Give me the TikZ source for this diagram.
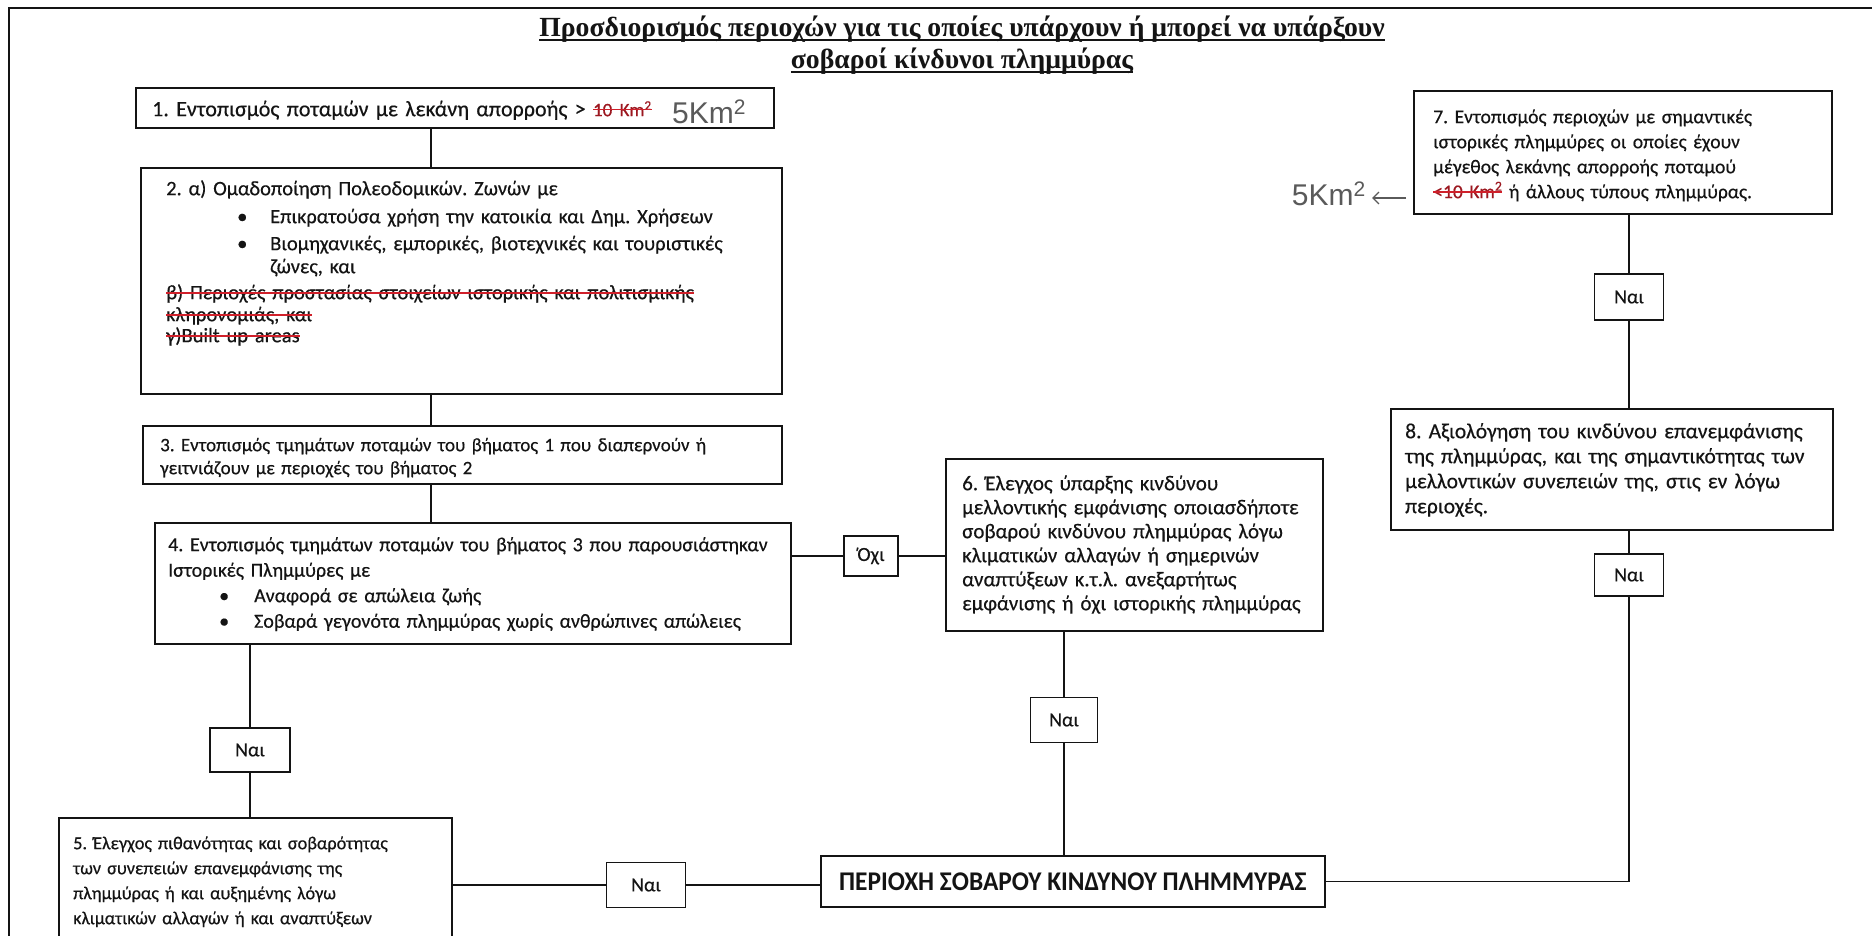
\documentclass[tikz,border=0pt]{standalone}
\usepackage{fontspec}
\usetikzlibrary{arrows.meta}
\setmainfont{Carlito}[FakeBold=0.4]
\newfontfamily\titlefont{Liberation Serif}
\newfontfamily\condfont[FakeStretch=0.94]{Carlito}
\newfontfamily\handfont{Liberation Sans}
\definecolor{ink}{HTML}{141414}
\definecolor{strk}{HTML}{D0202A}
\definecolor{hand}{HTML}{5A5A5A}
\frenchspacing
\newsavebox\sbx
\newcommand\rsout[1]{\sbox\sbx{#1}\usebox\sbx\llap{\textcolor{strk}{\rule[0.55ex]{\wd\sbx}{1.6pt}}}}
\newcommand\uln[1]{\sbox\sbx{#1}\usebox\sbx\llap{\rule[-5pt]{\wd\sbx}{1.6pt}}}
\newcommand\bulat[2]{\hspace*{#1}\makebox[#2][l]{\textbullet}}
\begin{document}
\begin{tikzpicture}[x=1pt,y=-1pt,
  box/.style={draw=ink, line width=1.6pt, anchor=north west, inner sep=0pt},
  lbl/.style={anchor=north west, inner sep=0pt, align=left, text width=#1, text=ink},
  yes/.style={draw=ink, line width=1.6pt, inner sep=0pt, minimum width=68pt, minimum height=44pt, font=\fontsize{20}{24}\selectfont, text=ink},
  link/.style={draw=ink, line width=1.6pt},
  hand/.style={inner sep=0pt, text=hand, font=\handfont\fontsize{30}{30}\selectfont}]
\useasboundingbox (0,0) rectangle (1872,935);
\fill[white] (0,0) rectangle (1872,935);
\clip (0,0) rectangle (1872,935);
% outer frame
\draw[ink, line width=1.4pt] (9,940) -- (9,8) -- (1880,8);
% title
\node[inner sep=0pt, anchor=base, text=ink, font=\titlefont\bfseries\fontsize{27.7}{32}\selectfont] (title1) at (962,36) {\uln{Προσδιορισμός περιοχών για τις οποίες υπάρχουν ή μπορεί να υπάρξουν}};
\node[inner sep=0pt, anchor=base, text=ink, font=\titlefont\bfseries\fontsize{27.7}{32}\selectfont] (title2) at (962,68) {\uln{σοβαροί κίνδυνοι πλημμύρας}};
% boxes
\node[box, minimum width=638pt, minimum height=40pt] (b1) at (135,87) {};
\node[box, minimum width=641pt, minimum height=226pt] (b2) at (140,167) {};
\node[box, minimum width=639pt, minimum height=58pt] (b3) at (142,425) {};
\node[box, minimum width=636pt, minimum height=121pt] (b4) at (154,522) {};
\node[box, minimum width=377pt, minimum height=172pt] (b6) at (945,458) {};
\node[box, minimum width=393pt, minimum height=125pt] (b5) at (58,817) {};
\node[box, minimum width=418pt, minimum height=123pt] (b7) at (1413,90) {};
\node[box, minimum width=442pt, minimum height=121pt] (b8) at (1390,408) {};
\node[box, minimum width=504pt, minimum height=51pt, text=ink, font=\condfont\bfseries\fontsize{27}{30}\selectfont] (bot) at (820,855) {ΠΕΡΙΟΧΗ ΣΟΒΑΡΟΥ ΚΙΝΔΥΝΟΥ ΠΛΗΜΜΥΡΑΣ};
% decision labels
\node[yes, minimum width=54pt, minimum height=40pt] (oxi) at (871,556) {Όχι};
\node[yes, minimum width=67pt, minimum height=45pt] (naiM) at (1064,720) {Ναι};
\node[yes, minimum width=80pt, minimum height=44pt] (naiL) at (250,750) {Ναι};
\node[yes, minimum width=79pt, minimum height=45pt] (naiB) at (646,885) {Ναι};
\node[yes, minimum width=69pt, minimum height=42pt] (nai8) at (1629,575) {Ναι};
\node[yes, minimum width=69pt, minimum height=46pt] (nai7) at (1629,297) {Ναι};
% texts
\node[lbl=620pt, font=\fontsize{22}{26}\selectfont] (t1) at (152,97.8) {\strut 1. Εντοπισμός ποταμών με λεκάνη απορροής > \rsout{\textcolor{strk!75!black}{\fontsize{19}{22}\selectfont 10 Km\textsuperscript{2}}}};
\node[hand] (h1) at (709,112) {5Km\textsuperscript{2}};
\node[lbl=620pt, font=\fontsize{20.5}{25}\selectfont] (t2) at (166,177.5) {\strut 2. α) Ομαδοποίηση Πολεοδομικών. Ζωνών με\\[3pt]
\bulat{71pt}{33pt}Επικρατούσα χρήση την κατοικία και Δημ. Χρήσεων\\[2pt]
\bulat{71pt}{33pt}Βιομηχανικές, εμπορικές, βιοτεχνικές και τουριστικές\\[-2pt]
\hspace*{104pt}ζώνες, και\\[1pt]
\rsout{β) Περιοχές προστασίας στοιχείων ιστορικής και πολιτισμικής}\\[-3pt]
\rsout{κληρονομιάς, και}\\[-4pt]
\rsout{γ)Built up areas}};
\node[lbl=620pt, font=\fontsize{19}{23}\selectfont] (t3) at (160,434.9) {\strut 3. Εντοπισμός τμημάτων ποταμών του βήματος 1 που διαπερνούν ή\\
γειτνιάζουν με περιοχές του βήματος 2};
\node[lbl=620pt, font=\fontsize{20}{25.5}\selectfont] (t4) at (168,533.15) {\strut 4. Εντοπισμός τμημάτων ποταμών του βήματος 3 που παρουσιάστηκαν\\
Ιστορικές Πλημμύρες με\\
\bulat{51pt}{35pt}Αναφορά σε απώλεια ζωής\\
\bulat{51pt}{35pt}Σοβαρά γεγονότα πλημμύρας χωρίς ανθρώπινες απώλειες};
\node[lbl=360pt, font=\fontsize{21}{24}\selectfont] (t6) at (962,473.2) {\strut 6. Έλεγχος ύπαρξης κινδύνου\\
μελλοντικής εμφάνισης οποιασδήποτε\\
σοβαρού κινδύνου πλημμύρας λόγω\\
κλιματικών αλλαγών ή σημερινών\\
αναπτύξεων κ.τ.λ. ανεξαρτήτως\\
εμφάνισης ή όχι ιστορικής πλημμύρας};
\node[lbl=375pt, font=\fontsize{18.3}{25}\selectfont] (t5) at (73,831.5) {\strut 5. Έλεγχος πιθανότητας και σοβαρότητας\\
των συνεπειών επανεμφάνισης της\\
πλημμύρας ή και αυξημένης λόγω\\
κλιματικών αλλαγών ή και αναπτύξεων};
\node[lbl=395pt, font=\fontsize{19.6}{25}\selectfont] (t7) at (1433,105.5) {\strut 7. Εντοπισμός περιοχών με σημαντικές\\
ιστορικές πλημμύρες οι οποίες έχουν\\
μέγεθος λεκάνης απορροής ποταμού\\
\rsout{\textcolor{strk!75!black}{<10 Km\textsuperscript{2}}} ή άλλους τύπους πλημμύρας.};
\node[lbl=425pt, font=\fontsize{21.5}{25}\selectfont] (t8) at (1405,420.5) {\strut 8. Αξιολόγηση του κινδύνου επανεμφάνισης\\
της πλημμύρας, και της σημαντικότητας των\\
μελλοντικών συνεπειών της, στις εν λόγω\\
περιοχές.};
% handwritten note by box 7
\node[hand, anchor=east] (h7) at (1366,194) {5Km\textsuperscript{2}};
\coordinate (h7tail) at (1406,198);
\draw[draw=hand, line width=1.3pt, -{Straight Barb[length=6pt]}] (h7tail) -- ([xshift=6pt]h7.east |- h7tail);
% connectors
\coordinate (cx) at (431,0);
\draw[link] (b1.south -| cx) -- (b2.north -| cx);
\draw[link] (b2.south -| cx) -- (b3.north -| cx);
\draw[link] (b3.south -| cx) -- (b4.north -| cx);
\draw[link] (oxi.west -| b4.east) -- (oxi.west);
\draw[link] (oxi.east) -- (oxi.east -| b6.west);
\draw[link] (naiM.north |- b6.south) -- (naiM.north);
\draw[link] (naiM.south) -- (naiM.south |- bot.north);
\draw[link] (naiL.north |- b4.south) -- (naiL.north);
\draw[link] (naiL.south) -- (naiL.south |- b5.north);
\draw[link] (naiB.west -| b5.east) -- (naiB.west);
\draw[link] (naiB.east) -- (naiB.east -| bot.west);
\draw[link] (bot.east) -- (bot.east -| nai8.south) -- (nai8.south);
\draw[link] (nai8.north) -- (nai8.north |- b8.south);
\draw[link] (b8.north -| nai7.south) -- (nai7.south);
\draw[link] (nai7.north) -- (nai7.north |- b7.south);
\end{tikzpicture}
\end{document}
